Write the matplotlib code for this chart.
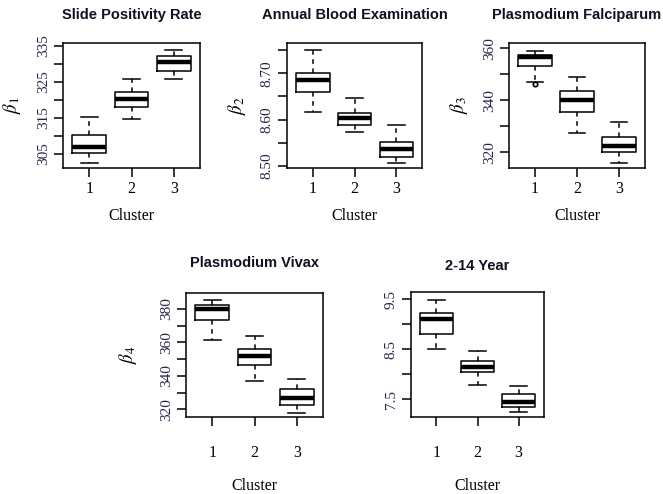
import matplotlib
matplotlib.use("Agg")
import matplotlib.pyplot as plt

plt.rcParams["mathtext.fontset"] = "stix"

clusters = [1, 2, 3]

# box stats per cluster: lower whisker, Q1, median, Q3, upper whisker
spr_lo = [302.4, 314.7, 325.7]
spr_q1 = [305.2, 318.0, 328.1]
spr_med = [306.8, 320.2, 330.6]
spr_q3 = [310.3, 322.3, 332.2]
spr_hi = [315.2, 325.7, 333.9]

abe_lo = [8.616, 8.573, 8.506]
abe_q1 = [8.660, 8.588, 8.520]
abe_med = [8.686, 8.604, 8.536]
abe_q3 = [8.701, 8.614, 8.551]
abe_hi = [8.750, 8.646, 8.589]

pf_lo = [347.2, 327.5, 315.8]
pf_q1 = [353.3, 335.4, 320.0]
pf_med = [356.5, 340.3, 322.4]
pf_q3 = [357.4, 343.7, 326.0]
pf_hi = [359.0, 349.1, 331.8]
pf_out = [[346.2], [], []]

pv_lo = [361.2, 337.0, 318.0]
pv_q1 = [373.4, 346.4, 322.6]
pv_med = [379.6, 351.6, 326.8]
pv_q3 = [382.0, 356.2, 332.2]
pv_hi = [385.4, 364.0, 338.2]

age_lo = [8.50, 7.79, 7.24]
age_q1 = [8.80, 8.04, 7.35]
age_med = [9.11, 8.15, 7.45]
age_q3 = [9.22, 8.27, 7.61]
age_hi = [9.49, 8.47, 7.77]

titles = ["Slide Positivity Rate", "Annual Blood Examination",
          "Plasmodium Falciparum", "Plasmodium Vivax", "2-14 Year"]
ylabels = [r"$\beta_1$", r"$\beta_2$", r"$\beta_3$", r"$\beta_4$", ""]

W, H = 663, 494
fig = plt.figure(figsize=(W / 100, H / 100), dpi=100)
fig.patch.set_facecolor("white")

serif = ["Liberation Serif", "DejaVu Serif"]
title_font = ["Liberation Sans", "DejaVu Sans"]
tick_col = "#262648"


def add_ax(x0, y0, x1, y1):
    return fig.add_axes([x0 / W, 1 - y1 / H, (x1 - x0) / W, (y1 - y0) / H])


def panel(ax, lo, q1, med, q3, hi, out, title, ylab, ylim, ticks, labelled,
          fmt, xpad, xlab_y, ylab_x, title_pad):
    stats = []
    for i in range(3):
        stats.append(dict(whislo=lo[i], q1=q1[i], med=med[i], q3=q3[i],
                          whishi=hi[i], fliers=out[i] if out else []))
    ax.bxp(stats, positions=clusters, widths=0.8, capwidths=0.4,
           boxprops=dict(color="black", lw=1.1),
           whiskerprops=dict(color="black", lw=1.1, linestyle=(0, (3, 3))),
           capprops=dict(color="black", lw=1.1),
           medianprops=dict(color="black", lw=3.2, solid_capstyle="butt"),
           flierprops=dict(marker="o", markersize=3.2, markerfacecolor="none",
                           markeredgecolor="black", markeredgewidth=1.2))
    ax.set_xlim(0.38, 3.62)
    ax.set_ylim(*ylim)
    ax.set_xticks(clusters)
    ax.set_xticklabels([str(c) for c in clusters], fontfamily=serif, fontsize=11.5)
    ax.set_yticks(ticks)
    ax.set_yticklabels([fmt.format(t) if t in labelled else "" for t in ticks],
                       fontfamily=serif, fontsize=11, color=tick_col,
                       rotation=90, va="center")
    ax.tick_params(axis="x", length=6.5, width=1.1, pad=xpad)
    ax.tick_params(axis="y", length=6.5, width=1.1, pad=3)
    for s in ax.spines.values():
        s.set_linewidth(1.1)
    ax.set_xlabel("Cluster", fontfamily=serif, fontsize=11.5)
    ax.xaxis.set_label_coords(0.5, xlab_y)
    if ylab:
        ax.set_ylabel(ylab, fontsize=13.5)
        ax.yaxis.set_label_coords(ylab_x, 0.5)
    ax.set_title(title, fontfamily=title_font, fontweight="bold", fontsize=10.5,
                 pad=title_pad, color="#101020")


ax1 = add_ax(63, 43, 200, 168)
panel(ax1, spr_lo, spr_q1, spr_med, spr_q3, spr_hi, None, titles[0], ylabels[0],
      (301.1, 335.8), [305, 310, 315, 320, 325, 330, 335], [305, 315, 325, 335],
      "{:.0f}", 3, -0.32, -0.29, 17)

ax2 = add_ax(287, 43, 422, 168)
panel(ax2, abe_lo, abe_q1, abe_med, abe_q3, abe_hi, None, titles[1], ylabels[1],
      (8.496, 8.765), [8.50, 8.55, 8.60, 8.65, 8.70, 8.75], [8.50, 8.60, 8.70],
      "{:.2f}", 3, -0.32, -0.29, 17)

ax3 = add_ax(509, 43, 645, 168)
panel(ax3, pf_lo, pf_q1, pf_med, pf_q3, pf_hi, pf_out, titles[2], ylabels[2],
      (314, 362), [320, 330, 340, 350, 360], [320, 340, 360],
      "{:.0f}", 3, -0.32, -0.29, 17)

ax4 = add_ax(186, 293, 323, 417)
panel(ax4, pv_lo, pv_q1, pv_med, pv_q3, pv_hi, None, titles[3], ylabels[3],
      (315.4, 389.4), [320, 330, 340, 350, 360, 370, 380], [320, 340, 360, 380],
      "{:.0f}", 14, -0.49, -0.34, 19)

ax5 = add_ax(411, 292, 544, 417)
panel(ax5, age_lo, age_q1, age_med, age_q3, age_hi, None, titles[4], ylabels[4],
      (7.14, 9.64), [7.5, 8.0, 8.5, 9.0, 9.5], [7.5, 8.5, 9.5],
      "{:.1f}", 14, -0.49, -0.34, 16)

fig.savefig("out.png", dpi=100)
